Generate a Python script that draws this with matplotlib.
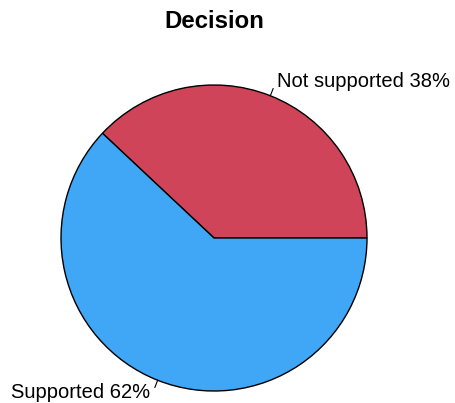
import numpy as np
import matplotlib
matplotlib.use("Agg")
import matplotlib.pyplot as plt

categories = ["Not supported", "Supported"]
values = [38, 62]
colors = ["#CF4459", "#3FA7F5"]
title = "Decision"

W, H = 455, 403
fig = plt.figure(figsize=(W / 100, H / 100), dpi=100)
cx, cy, r = 214, 238, 153
ax = fig.add_axes([(cx - r) / W, (H - cy - r) / H, 2 * r / W, 2 * r / H])
wedges, _ = ax.pie(values, colors=colors, startangle=0, counterclock=True,
                   radius=1, wedgeprops=dict(edgecolor="black", linewidth=1))
ax.set_xlim(-1, 1)
ax.set_ylim(-1, 1)
ax.set_aspect("equal")
ax.axis("off")

total = sum(values)
start = 0
for i, (cat, v) in enumerate(zip(categories, values)):
    mid = np.deg2rad(start + v / total * 360 / 2)
    start += v / total * 360
    x0, y0 = np.cos(mid), np.sin(mid)
    x1, y1 = 1.05 * np.cos(mid), 1.05 * np.sin(mid)
    ax.plot([x0, x1], [y0, y1], color="black", lw=0.8, clip_on=False)
    if x0 > 0:
        ha, off = "left", (4, 7)
    else:
        ha, off = "right", (-5, -5)
    ax.annotate(f"{cat} {v}%", (x1, y1), xytext=off, textcoords="offset pixels",
                ha=ha, va="center", fontsize=14.5, family="Liberation Sans",
                annotation_clip=False)

fig.text(214 / W, 1 - 22 / H, title, ha="center", va="center",
         fontsize=17.3, fontweight="bold", family="Liberation Sans")

fig.savefig("out.png", dpi=100, facecolor="white")
